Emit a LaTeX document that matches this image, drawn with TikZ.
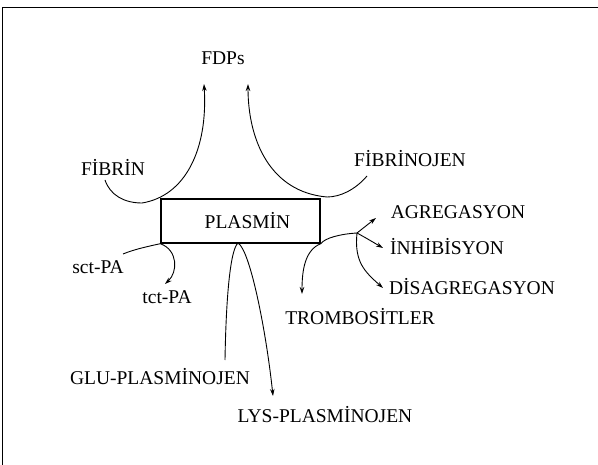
\documentclass[tikz,border=0pt]{standalone}
\usepackage{fontspec}
\setmainfont{Liberation Serif}
\usetikzlibrary{arrows.meta}

\begin{document}
\begin{tikzpicture}[x=1bp,y=-1bp,every node/.style={inner sep=1pt,font=\fontsize{19.5bp}{23bp}\selectfont},
  link/.style={line width=0.9pt,-{Stealth[length=7bp,width=4.5bp]}}]
\useasboundingbox (0,0) rectangle (598,465);
\draw[line width=0.8pt] (2,465)--(2,7)--(598,7);
\node[draw,line width=1.4pt,minimum width=159bp,minimum height=44bp,inner sep=0pt] (plasmin) at (240.5,221) {\hspace{14bp}PLASMİN};
\node (fdps) at (223,58) {FDPs};
\node (fibrin) at (113,167) {FİBRİN};\node (fibrinojen) at (410,159) {FİBRİNOJEN};
\node (sctpa) at (98,267) {sct-PA};\node (tctpa) at (167,297) {tct-PA};
\node (agregasyon) at (458,212) {AGREGASYON};\node (inhibisyon) at (447,247) {İNHİBİSYON};
\node (disagregasyon) at (472,287) {DİSAGREGASYON};\node (trombositler) at (360,317) {TROMBOSİTLER};
\node (glu) at (160,377) {GLU-PLASMİNOJEN};\node (lys) at (325,415) {LYS-PLASMİNOJEN};
\coordinate (fb) at (105,180);\coordinate (fo) at (367,176);
\coordinate (fdpl) at (204,84);\coordinate (fdpr) at (248,84);
\coordinate (sct) at (123,254);\coordinate (tct) at (165,284);
\coordinate (gluend) at (225,360);\coordinate (lysend) at (273,396);
\coordinate (branch) at (357,233);\coordinate (tromb) at (302,294);
\coordinate (agr) at (376,218);\coordinate (inh) at (383,248);\coordinate (dis) at (383,288);
\draw[link] (fb) .. controls (110,195) and (124,203) .. (142,203) .. controls (185,196) and (208,150) .. (fdpl);
\draw[link] (fo) .. controls (355,190) and (340,197) .. (327,197) .. controls (270,192) and (248,140) .. (fdpr);
\draw[link] (sct) .. controls (135,249) and (150,246) .. (plasmin.south west) .. controls (178,250) and (178,272) .. (tct);
\draw[link] (gluend) .. controls (226,300) and (230,250) .. (238,243) .. controls (250,250) and (266,330) .. (lysend);
\draw[link] (branch) .. controls (340,234) and (325,238) .. (plasmin.south east) .. controls (305,250) and (302,270) .. (tromb);
\draw[link] (branch)--(agr);\draw[link] (branch) .. controls (366,238) .. (inh);
\draw[link] (branch) .. controls (354,262) and (365,272) .. (dis);
\end{tikzpicture}
\end{document}
